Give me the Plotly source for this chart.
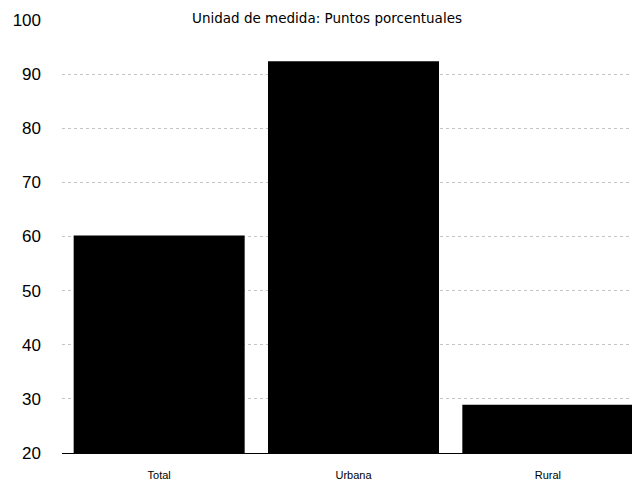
import plotly.graph_objects as go

# Data
categories = ["Total", "Urbana", "Rural"]
values = [60.2, 92.4, 28.9]
y_ticks = [20, 30, 40, 50, 60, 70, 80, 90, 100]

fig = go.Figure()

fig.add_trace(go.Bar(
    x=categories,
    y=values,
    marker=dict(color="#000000", line=dict(width=0)),
    hoverinfo="x+y",
    showlegend=False,
))

# page body adds an 8px offset, so the figure is sized to fit the window
fig.update_layout(
    width=640,
    height=477,
    margin=dict(l=54, r=3, t=12, b=32),
    plot_bgcolor="white",
    paper_bgcolor="white",
    bargap=0.12,
    font=dict(family="Arial", color="#000000"),
    annotations=[dict(
        text="Unidad de medida: Puntos porcentuales",
        x=0.455, xref="paper", y=1, yref="paper",
        xanchor="center", yanchor="top", yshift=12,
        showarrow=False,
        font=dict(family="DejaVu Sans", size=13.5, color="#000000"),
    )],
)

fig.update_yaxes(
    range=[20, 100],
    tickvals=y_ticks,
    tickfont=dict(size=17),
    showgrid=True,
    gridcolor="#c4c4c4",
    griddash="dot",
    gridwidth=1,
    zeroline=False,
    showline=False,
    ticks="",
    ticklabelstandoff=20,
)

fig.update_xaxes(
    tickfont=dict(size=11),
    showline=True,
    linecolor="#000000",
    linewidth=1,
    showgrid=False,
    ticks="",
    ticklabelstandoff=12,
)

fig.write_html("out.html")
